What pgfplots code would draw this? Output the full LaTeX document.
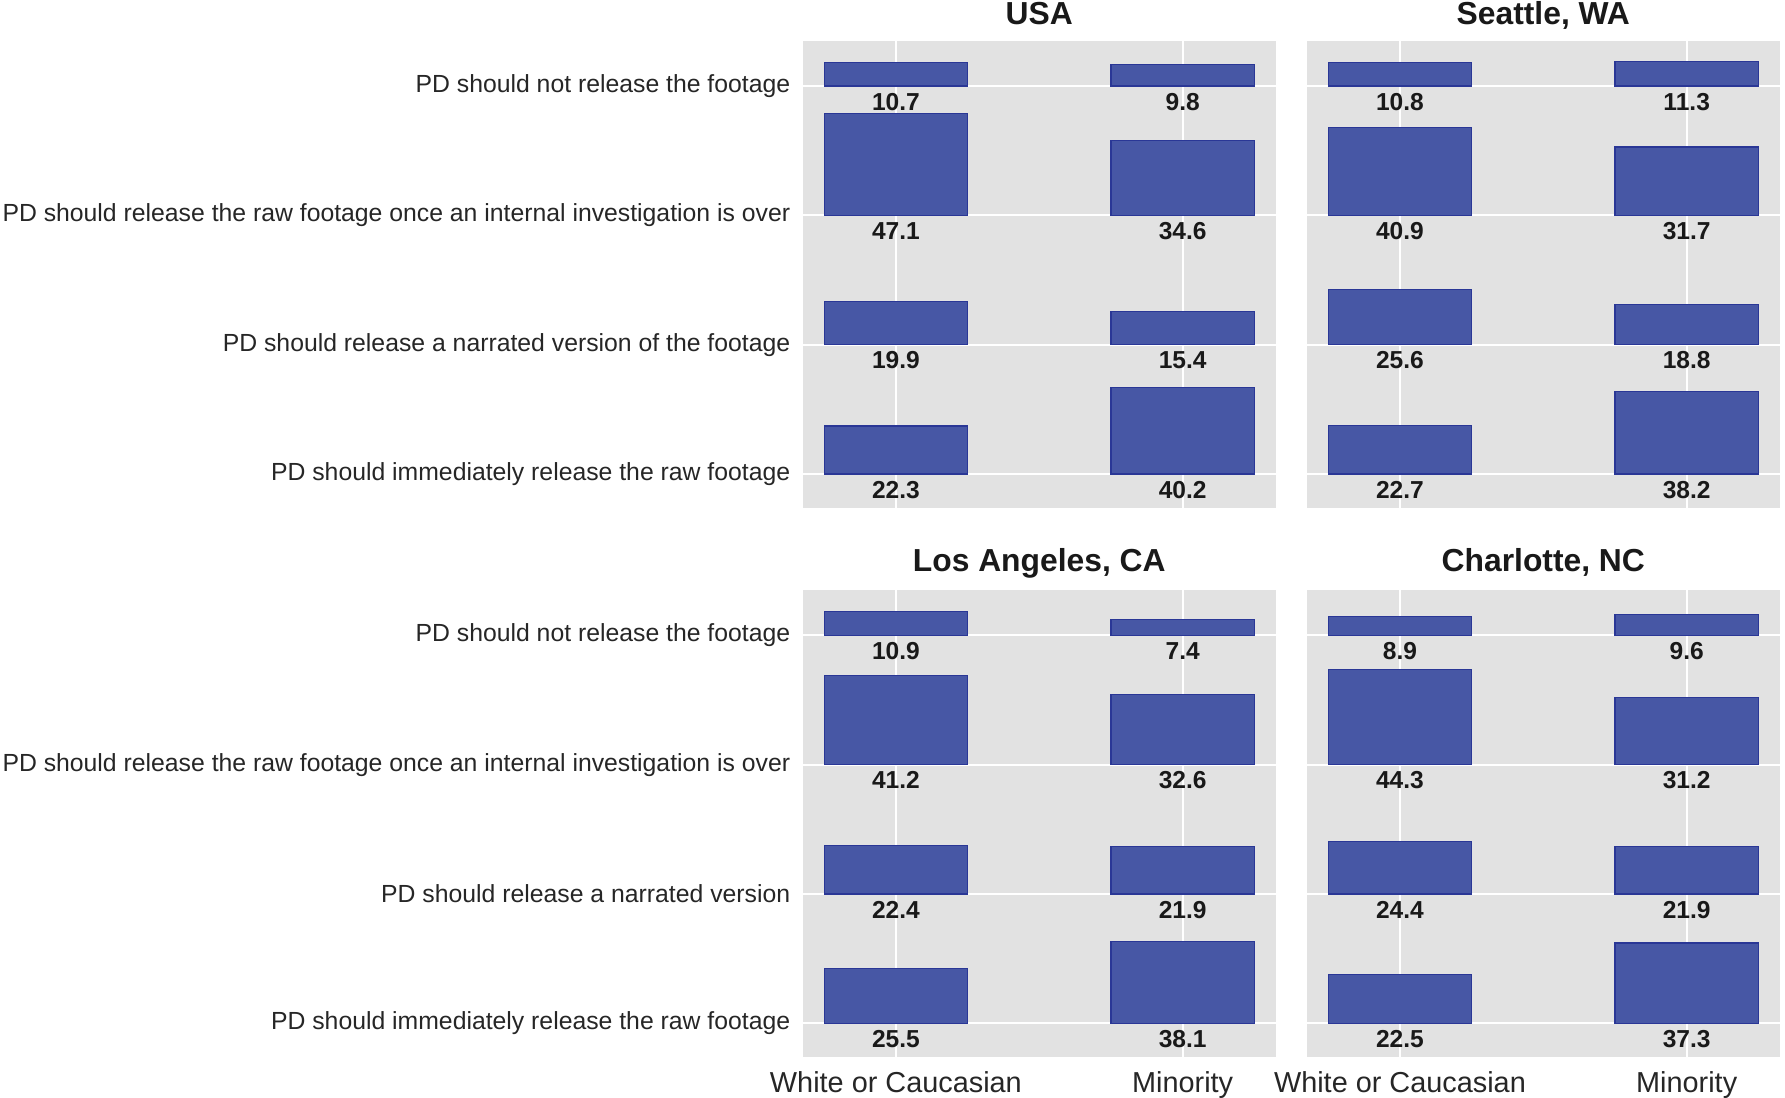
\documentclass[border=0pt]{standalone}
\usepackage{pgfplots}
\pgfplotsset{compat=1.18}
\usepackage{pgfplotstable}
\usepackage{fontspec}
\setmainfont{Liberation Sans}

\definecolor{panelbg}{RGB}{226,226,226}
\definecolor{barblue}{RGB}{71,87,165}
\definecolor{baredge}{RGB}{42,55,150}

% columns: imm = immediately release, nar = narrated version,
% raw = raw footage once investigation is over, non = should not release
\pgfplotstableread{
x imm nar raw non
0 22.3 19.9 47.1 10.7
1 40.2 15.4 34.6 9.8
}\usa
\pgfplotstableread{
x imm nar raw non
0 22.7 25.6 40.9 10.8
1 38.2 18.8 31.7 11.3
}\seattle
\pgfplotstableread{
x imm nar raw non
0 25.5 22.4 41.2 10.9
1 38.1 21.9 32.6 7.4
}\losangeles
\pgfplotstableread{
x imm nar raw non
0 22.5 24.4 44.3 8.9
1 37.3 21.9 31.2 9.6
}\charlotte

\pgfplotsset{
  frame/.style={
    scale only axis, width=207.4bp, height=204.9bp,
    xmin=-0.325, xmax=1.325, ymin=-15.8, ymax=201,
  },
  panel/.style={
    frame,
    ybar stacked, bar width=0.5,
    axis background/.style={fill=panelbg},
    axis line style={draw=none},
    major tick length=0pt,
    xtick={0,1}, ytick={0,60,120,180},
    grid=major, major grid style={white, line width=0.9bp},
    every axis title shift=0pt,
    title style={font=\fontsize{14}{16}\selectfont\bfseries, text=black!90,
      at={(0.5,1)}, anchor=base, yshift=6.9bp},
    yticklabel style={font=\fontsize{10.9}{13}\selectfont, text=black!85,
      anchor=east, inner sep=0pt, xshift=-5.3bp},
    xticklabel style={font=\fontsize{12.7}{15}\selectfont, text=black!85,
      anchor=base, inner sep=0pt, yshift=-15.4bp},
  },
  gap/.style={draw=none, fill=none},
  bar/.style={fill=barblue, draw=baredge, line width=0.5bp},
  lab/.style={draw=none, mark=none, point meta=explicit,
    nodes near coords={\pgfmathprintnumber[fixed,fixed zerofill,precision=1,assume math mode=true]{\pgfplotspointmeta}},
    every node near coord/.style={font=\fontsize{10.8}{12}\selectfont\bfseries,
      text=black!90, anchor=center, inner sep=0pt, yshift=-6.85bp}},
}

% bars stand on the category lines at 0, 60, 120, 180
\newcommand\bars[1]{%
  \addplot[bar] table[x=x, y=imm]{#1};
  \addplot[gap] table[x=x, y expr=60-\thisrow{imm}]{#1};
  \addplot[bar] table[x=x, y=nar]{#1};
  \addplot[gap] table[x=x, y expr=60-\thisrow{nar}]{#1};
  \addplot[bar] table[x=x, y=raw]{#1};
  \addplot[gap] table[x=x, y expr=60-\thisrow{raw}]{#1};
  \addplot[bar] table[x=x, y=non]{#1};
}
% value labels just under each category line
\newcommand\labels[1]{%
  \addplot[lab] table[x=x, y expr=0, meta=imm]{#1};
  \addplot[lab] table[x=x, y expr=60, meta=nar]{#1};
  \addplot[lab] table[x=x, y expr=120, meta=raw]{#1};
  \addplot[lab] table[x=x, y expr=180, meta=non]{#1};
}

\begin{document}
\begin{tikzpicture}
\path[use as bounding box] (0,0) rectangle (782.5bp,-481bp);

\begin{axis}[panel, at={(351.9bp,-17.85bp)}, anchor=north west,
  title={USA}, xticklabels={{},{}},
  yticklabels={PD should immediately release the raw footage,
    PD should release a narrated version of the footage,
    PD should release the raw footage once an internal investigation is over,
    PD should not release the footage}]
\bars{\usa}
\end{axis}
\begin{axis}[frame, hide axis, at={(351.9bp,-17.85bp)}, anchor=north west]
\labels{\usa}
\end{axis}

\begin{axis}[panel, at={(572.85bp,-17.85bp)}, anchor=north west,
  title={Seattle, WA}, xticklabels={{},{}}, yticklabels={{},{},{},{}}]
\bars{\seattle}
\end{axis}
\begin{axis}[frame, hide axis, at={(572.85bp,-17.85bp)}, anchor=north west]
\labels{\seattle}
\end{axis}

\begin{axis}[panel, at={(351.9bp,-258.65bp)}, anchor=north west,
  title={Los Angeles, CA}, title style={yshift=1.4bp},
  xticklabels={White or Caucasian, Minority},
  yticklabels={PD should immediately release the raw footage,
    PD should release a narrated version,
    PD should release the raw footage once an internal investigation is over,
    PD should not release the footage}]
\bars{\losangeles}
\end{axis}
\begin{axis}[frame, hide axis, at={(351.9bp,-258.65bp)}, anchor=north west]
\labels{\losangeles}
\end{axis}

\begin{axis}[panel, at={(572.85bp,-258.65bp)}, anchor=north west,
  title={Charlotte, NC}, title style={yshift=1.4bp},
  xticklabels={White or Caucasian, Minority}, yticklabels={{},{},{},{}}]
\bars{\charlotte}
\end{axis}
\begin{axis}[frame, hide axis, at={(572.85bp,-258.65bp)}, anchor=north west]
\labels{\charlotte}
\end{axis}
\end{tikzpicture}
\end{document}
